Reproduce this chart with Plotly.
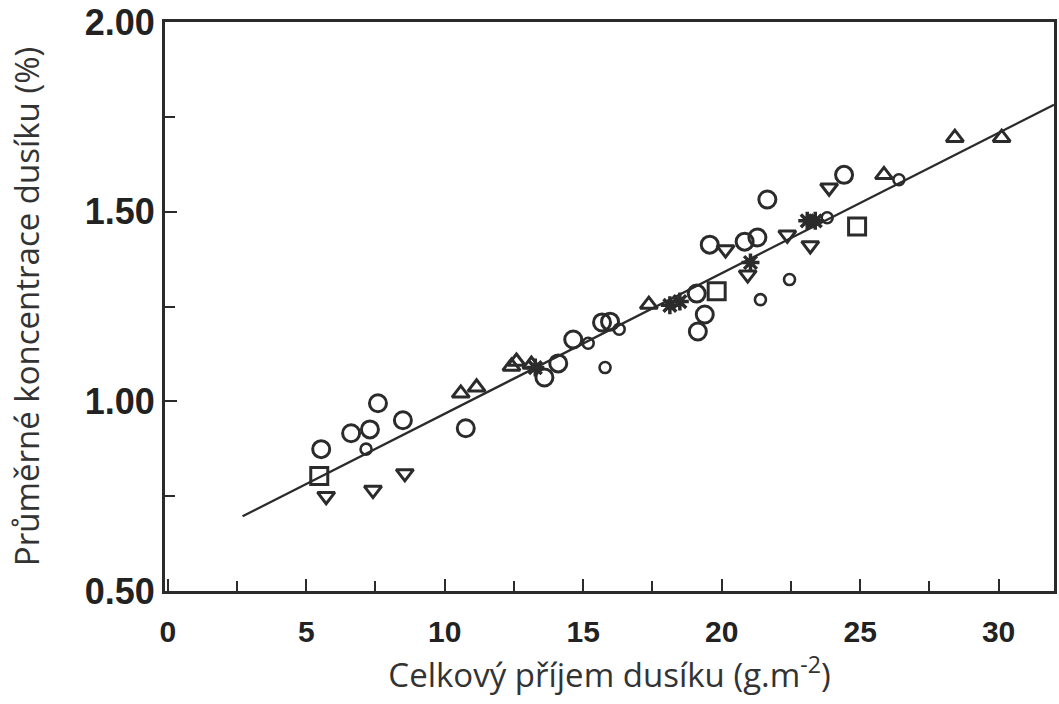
import plotly.graph_objects as go

# --- data ---
circle_x = [5.54, 6.62, 7.30, 7.59, 8.49, 10.76, 13.6, 14.1, 14.64, 15.68, 15.97,
            19.1, 19.39, 19.14, 19.57, 20.83, 21.29, 21.65, 24.42]
circle_y = [0.874, 0.916, 0.926, 0.995, 0.950, 0.929, 1.063, 1.10, 1.163, 1.208, 1.21,
            1.284, 1.229, 1.184, 1.413, 1.421, 1.432, 1.532, 1.597]

small_x = [7.16, 15.18, 15.79, 16.3, 21.4, 22.45, 23.81, 26.4]
small_y = [0.874, 1.153, 1.089, 1.19, 1.268, 1.321, 1.484, 1.584]

tri_up_x = [10.58, 11.15, 12.41, 12.59, 13.13, 17.37, 25.86, 28.42, 30.11]
tri_up_y = [1.021, 1.037, 1.092, 1.105, 1.097, 1.255, 1.597, 1.695, 1.695]

tri_dn_x = [5.72, 7.41, 8.56, 20.14, 20.94, 22.37, 23.2, 23.88]
tri_dn_y = [0.75, 0.766, 0.81, 1.40, 1.334, 1.439, 1.411, 1.563]

square_x = [5.47, 19.82, 24.89]
square_y = [0.803, 1.29, 1.461]

star_x = [13.27, 18.13, 18.49, 21.04, 23.09, 23.38]
star_y = [1.089, 1.253, 1.263, 1.366, 1.476, 1.476]

line_x = [2.7, 32.0]
line_y = [0.697, 1.782]

x_ticks = [0, 5, 10, 15, 20, 25, 30]
x_minor = [2.5, 7.5, 12.5, 17.5, 22.5, 27.5]
y_ticks = [0.5, 1.0, 1.5, 2.0]
y_tick_text = ["0.50", "1.00", "1.50", "2.00"]
y_minor = [0.75, 1.25, 1.75]

INK = "#2b2b2b"

fig = go.Figure()

fig.add_trace(go.Scatter(x=line_x, y=line_y, mode="lines",
                         line=dict(color=INK, width=2.3), hoverinfo="skip"))

def add_markers(xs, ys, symbol, size, lw=3):
    fig.add_trace(go.Scatter(x=xs, y=ys, mode="markers",
                             marker=dict(symbol=symbol, size=size, color=INK,
                                         line=dict(color=INK, width=lw))))

add_markers(circle_x, circle_y, "circle-open", 17)
add_markers(small_x, small_y, "circle-open", 11, 2.6)
add_markers(tri_up_x, tri_up_y, "triangle-up-open", 15)
add_markers(tri_dn_x, tri_dn_y, "triangle-down-open", 15)
add_markers(square_x, square_y, "square-open", 17)
add_markers(star_x, star_y, "asterisk-open", 15, 3.5)

fig.update_layout(
    width=1059, height=704,
    margin=dict(l=165, r=2, t=21, b=113),
    paper_bgcolor="white", plot_bgcolor="white",
    showlegend=False,
)

fig.update_xaxes(
    range=[-0.1, 32.0], tickvals=x_ticks,
    ticktext=["<b>%d</b>" % t for t in x_ticks],
    ticks="inside", ticklen=12, tickwidth=2, tickcolor=INK,
    minor=dict(tickvals=x_minor, ticks="inside",
               ticklen=10, tickwidth=2, tickcolor=INK),
    showline=True, linecolor=INK, linewidth=3, mirror=True,
    showgrid=False, zeroline=False, ticklabelstandoff=12,
    tickfont=dict(family="Liberation Sans", size=30, color="#222"),
    title=dict(text="Celkový příjem dusíku (g.m<sup>-2</sup>)",
               font=dict(family="Open Sans", size=33, color="#333"), standoff=12),
)
fig.update_yaxes(
    range=[0.5, 2.0], tickvals=y_ticks, ticktext=["<b>%s</b>" % t for t in y_tick_text],
    ticks="inside", ticklen=12, tickwidth=2, tickcolor=INK,
    minor=dict(tickvals=y_minor, ticks="inside",
               ticklen=10, tickwidth=2, tickcolor=INK),
    showline=True, linecolor=INK, linewidth=3, mirror=True,
    showgrid=False, zeroline=False,
    tickfont=dict(family="Liberation Sans", size=36, color="#222"),
    title=dict(text="Průměrné koncentrace dusíku (%)",
               font=dict(family="Open Sans", size=33, color="#333"), standoff=36),
)

fig.write_html("out.html")
